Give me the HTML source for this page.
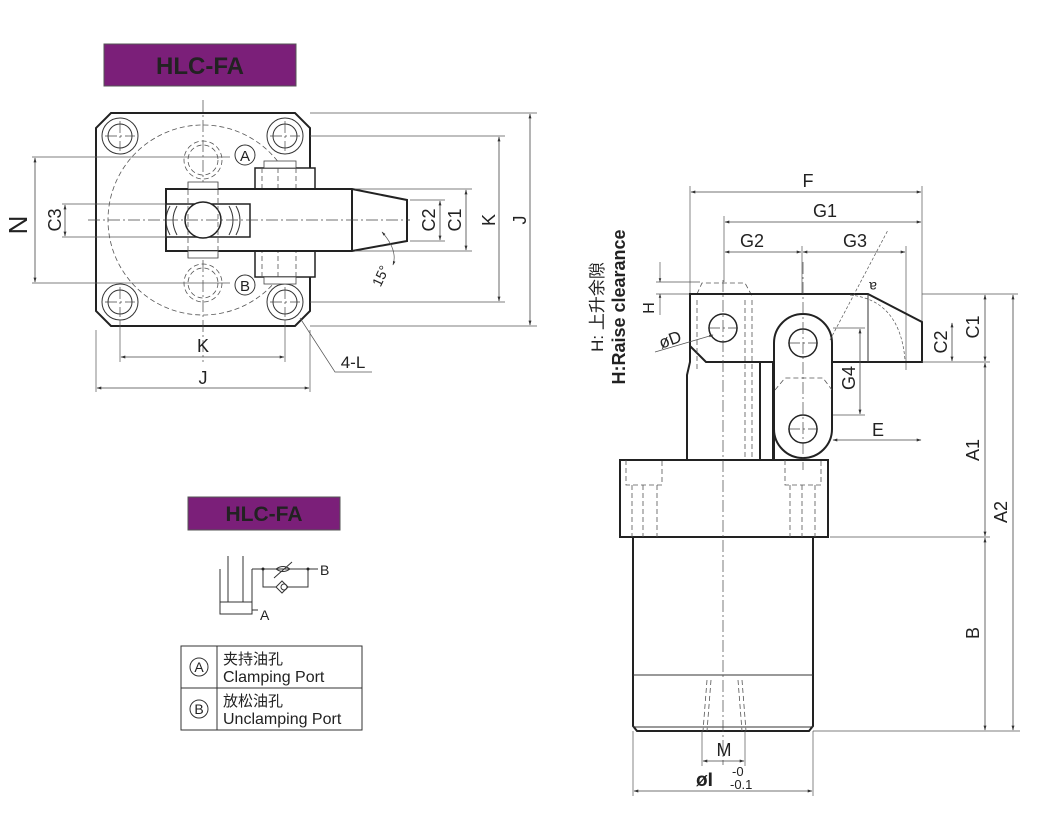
<!DOCTYPE html>
<html><head><meta charset="utf-8"><style>
html,body{margin:0;padding:0;background:#fff;}
svg{display:block;font-family:"Liberation Sans","Noto Sans CJK SC",sans-serif;}
.t{stroke:#222;stroke-width:2;fill:none}
.n{stroke:#333;stroke-width:1;fill:none}
.d{stroke:#555;stroke-width:0.8;fill:none;stroke-dasharray:5 3}
.c{stroke:#444;stroke-width:0.7;fill:none;stroke-dasharray:12 3 2 3}
.dim{stroke:#444;stroke-width:0.8;fill:none;marker-start:url(#a);marker-end:url(#a)}
.l{stroke:#555;stroke-width:0.7;fill:none}
text{fill:#222}
</style></head><body>
<svg width="1044" height="826" viewBox="0 0 1044 826" font-size="17">
<defs><marker id="a" viewBox="0 0 10 10" refX="9" refY="5" markerWidth="9" markerHeight="6" orient="auto-start-reverse"><path d="M0,2 L10,5 L0,8z" fill="#333"/></marker></defs>

<!-- Title 1 -->
<rect x="104" y="44" width="192" height="42" fill="#7b1f79" stroke="#555"/>
<text x="200" y="74" text-anchor="middle" font-size="24" font-weight="bold" fill="#111">HLC-FA</text>

<!-- top view plate -->
<path class="t" d="M111,113 L295,113 L310,128 L310,311 L295,326 L111,326 L96,311 L96,128 Z"/>
<g class="n">
<circle cx="120" cy="136" r="18"/><circle cx="120" cy="136" r="12"/>
<circle cx="285" cy="136" r="18"/><circle cx="285" cy="136" r="12"/>
<circle cx="120" cy="302" r="18"/><circle cx="120" cy="302" r="12"/>
<circle cx="285" cy="302" r="18"/><circle cx="285" cy="302" r="12"/>
</g>
<circle class="d" cx="203" cy="220" r="95"/>
<circle class="d" cx="203" cy="160" r="19"/><circle class="d" cx="203" cy="160" r="15"/>
<circle class="d" cx="203" cy="283" r="19"/><circle class="d" cx="203" cy="283" r="15"/>
<line class="c" x1="203" y1="100" x2="203" y2="362"/>
<line class="c" x1="88" y1="220" x2="410" y2="220"/>
<line class="c" x1="105" y1="136" x2="135" y2="136"/><line class="c" x1="120" y1="121" x2="120" y2="151"/>
<line class="c" x1="270" y1="136" x2="300" y2="136"/><line class="c" x1="285" y1="121" x2="285" y2="151"/>
<line class="c" x1="105" y1="302" x2="135" y2="302"/><line class="c" x1="120" y1="287" x2="120" y2="317"/>
<line class="c" x1="270" y1="302" x2="300" y2="302"/><line class="c" x1="285" y1="287" x2="285" y2="317"/>
<!-- clevis bar -->
<rect x="255" y="168" width="60" height="109" fill="#fff" stroke="#222" stroke-width="1.5"/>
<path class="d" d="M262,168 V277 M278,168 V277 M296,168 V277"/>
<rect x="264" y="161" width="32" height="7" fill="#fff" stroke="#444" stroke-width="0.8"/>
<rect x="264" y="277" width="32" height="7" fill="#fff" stroke="#444" stroke-width="0.8"/>
<!-- arm -->
<path d="M166,189 L352,189 L407,200 L407,241 L352,251 L166,251 Z" fill="#fff" stroke="#222" stroke-width="2"/>
<path class="t" d="M352,189 V251"/>
<rect x="166" y="204" width="84" height="33" fill="#fff" stroke="#222" stroke-width="1.5"/>
<circle cx="203" cy="220" r="18" fill="#fff" stroke="#222" stroke-width="1.5"/>
<path class="n" d="M170,206 Q162,220 170,235 M177,206 Q169,220 177,235 M236,206 Q244,220 236,235 M229,206 Q237,220 229,235"/>
<rect x="188" y="182" width="30" height="7" fill="#fff" stroke="#444" stroke-width="0.8"/>
<rect x="188" y="251" width="30" height="7" fill="#fff" stroke="#444" stroke-width="0.8"/>
<path class="d" d="M188,182 V258 M218,182 V258"/>
<line class="c" x1="166" y1="220" x2="410" y2="220"/>
<circle cx="245" cy="155" r="10" fill="#fff" stroke="#333"/><text x="245" y="161" text-anchor="middle" font-size="15">A</text>
<circle cx="245" cy="285" r="10" fill="#fff" stroke="#333"/><text x="245" y="291" text-anchor="middle" font-size="15">B</text>
<!-- dims left -->
<path class="l" d="M32,157 H230 M32,283 H230 M62,204 H166 M62,237 H166 M410,200 H445 M410,241 H445 M355,189 H472 M355,251 H472 M310,136 H505 M310,302 H505 M310,113 H537 M310,326 H537"/>
<line class="dim" x1="35" y1="158" x2="35" y2="282"/>
<line class="dim" x1="65" y1="205" x2="65" y2="236"/>
<line class="dim" x1="440" y1="201" x2="440" y2="240"/>
<line class="dim" x1="466" y1="190" x2="466" y2="250"/>
<line class="dim" x1="499" y1="137" x2="499" y2="301"/>
<line class="dim" x1="530" y1="114" x2="530" y2="325"/>
<text transform="translate(27,225) rotate(-90)" text-anchor="middle" font-size="26">N</text>
<text transform="translate(61,220) rotate(-90)" text-anchor="middle" font-size="18">C3</text>
<text transform="translate(435,220) rotate(-90)" text-anchor="middle" font-size="18">C2</text>
<text transform="translate(461,220) rotate(-90)" text-anchor="middle" font-size="18">C1</text>
<text transform="translate(495,220) rotate(-90)" text-anchor="middle" font-size="18">K</text>
<text transform="translate(526,220) rotate(-90)" text-anchor="middle" font-size="18">J</text>
<path class="l" d="M120,320 V362 M285,320 V362 M96,330 V392 M310,330 V392"/>
<line class="dim" x1="121" y1="357" x2="284" y2="357"/>
<line class="dim" x1="97" y1="388" x2="309" y2="388"/>
<text x="203" y="352" text-anchor="middle" font-size="18">K</text>
<text x="203" y="384" text-anchor="middle" font-size="18">J</text>
<path class="l" d="M300,318 L335,372 H372"/>
<text x="353" y="368" text-anchor="middle">4-L</text>
<path class="l" d="M382,232 Q398,250 393,265" marker-end="url(#a)" marker-start="url(#a)"/>
<text transform="translate(385,278) rotate(-65)" text-anchor="middle" font-size="14">15°</text>

<!-- Title 2 + schematic -->
<rect x="188" y="497" width="152" height="33" fill="#7b1f79" stroke="#555"/>
<text x="264" y="521" text-anchor="middle" font-size="21" font-weight="bold" fill="#111">HLC-FA</text>
<g class="n">
<path d="M220,569 V614 H252 V569 M228,556 V602 M243,556 V602 M220,602 H252 M252,569 H310 M252,610 H258 M263,569 V587 H276 M288,587 H308 V569 M308,569 H318"/>
<path d="M276,569 Q283,564 290,569 M276,569 Q283,574 290,569 M274,578 L292,562"/>
<path d="M282,581 L288,587 L282,593 L276,587 Z"/><circle cx="284" cy="587" r="3"/>
</g>
<circle cx="263" cy="569" r="1.5" fill="#222"/><circle cx="308" cy="569" r="1.5" fill="#222"/>
<text x="320" y="575" font-size="14">B</text>
<text x="260" y="620" font-size="14">A</text>
<rect x="181" y="646" width="181" height="84" fill="none" stroke="#333"/>
<path class="n" d="M181,688 H362 M217,646 V730"/>
<circle cx="199" cy="667" r="9" fill="none" stroke="#333"/><text x="199" y="672" text-anchor="middle" font-size="14">A</text>
<circle cx="199" cy="709" r="9" fill="none" stroke="#333"/><text x="199" y="714" text-anchor="middle" font-size="14">B</text>
<text x="223" y="664" font-size="15">夹持油孔</text>
<text x="223" y="682" font-size="16">Clamping Port</text>
<text x="223" y="706" font-size="15">放松油孔</text>
<text x="223" y="724" font-size="16">Unclamping Port</text>

<!-- side view -->
<text transform="translate(603,307) rotate(-90)" text-anchor="middle" font-size="17">H: 上升余隙</text>
<text transform="translate(625,307) rotate(-90)" text-anchor="middle" font-size="18" font-weight="bold">H:Raise clearance</text>
<path class="l" d="M690,186 V294 M922,186 V362 M724,216 V282 M802,246 V294 M906,246 V370"/>
<line class="dim" x1="691" y1="192" x2="921" y2="192"/>
<line class="dim" x1="725" y1="222" x2="921" y2="222"/>
<line class="dim" x1="725" y1="252" x2="801" y2="252"/>
<line class="dim" x1="803" y1="252" x2="905" y2="252"/>
<text x="808" y="187" text-anchor="middle" font-size="18">F</text>
<text x="825" y="217" text-anchor="middle" font-size="18">G1</text>
<text x="752" y="247" text-anchor="middle" font-size="18">G2</text>
<text x="855" y="247" text-anchor="middle" font-size="18">G3</text>
<!-- H -->
<path class="l" d="M656,282 H700 M656,294 H690"/>
<path class="l" d="M660,262 V282" marker-end="url(#a)"/><path class="l" d="M660,315 V294" marker-end="url(#a)"/>
<text transform="translate(654,308) rotate(-90)" text-anchor="middle" font-size="16">H</text>
<path class="d" d="M697,294 L702,283 L745,283 L752,296"/>
<!-- base & cylinder -->
<rect x="620" y="460" width="208" height="77" fill="#fff" stroke="#222" stroke-width="2"/>
<path class="t" d="M633,537 V726 L637,731 H809 L813,726 V537"/>
<path class="n" d="M633,675 H813 M633,727 H813"/>
<path class="d" d="M626,460 V485 H662 V460 M632,485 V537 M643,485 V537 M657,485 V537 M785,460 V485 H821 V460 M790,485 V537 M802,485 V537 M815,485 V537"/>
<path class="d" d="M707,680 L703,731 M711,680 L707,731 M738,680 L742,731 M742,680 L746,731"/>
<!-- column -->
<path class="t" d="M687,460 V375 L690,362 V294 H868 L922,322 V362 H832 M774,362 H706 L690,346" fill="#fff"/>
<path class="t" d="M760,460 V362 M773,362 V460"/>
<path d="M774,460 V343 A29,29 0 0 1 832,343 V429 A29,29 0 0 1 774,429 Z" fill="#fff" stroke="#222" stroke-width="2"/>
<path class="n" d="M868,294 V362"/>
<path class="d" d="M697,300 V370 M745,300 V460 M752,300 V460 M775,390 L785,378 H823 L832,390"/>
<circle cx="723" cy="328" r="14" fill="#fff" stroke="#222" stroke-width="1.5"/>
<circle cx="803" cy="343" r="14" fill="none" stroke="#222" stroke-width="1.5"/>
<circle cx="803" cy="429" r="14" fill="none" stroke="#222" stroke-width="1.5"/>
<line class="c" x1="723" y1="280" x2="723" y2="765"/>
<line class="c" x1="803" y1="262" x2="803" y2="470"/>
<path class="c" d="M708,328 H738 M788,343 H818 M788,429 H818"/>
<path class="l" d="M830,340 L888,230 M850,295 Q900,300 905,360" stroke-dasharray="3 2"/>
<text x="877" y="292" font-size="14" transform="rotate(180 877 287)">a</text>
<path class="l" d="M655,352 L713,335" marker-end="url(#a)"/>
<text transform="translate(672,345) rotate(-20)" text-anchor="middle" font-size="17">øD</text>
<!-- right dims -->
<path class="l" d="M922,294 H1018 M922,362 H990 M833,328 H865 M833,415 H865 M830,537 H990 M813,731 H1020"/>
<line class="dim" x1="952" y1="323" x2="952" y2="361"/>
<line class="dim" x1="985" y1="295" x2="985" y2="361"/>
<line class="dim" x1="985" y1="363" x2="985" y2="536"/>
<line class="dim" x1="985" y1="538" x2="985" y2="730"/>
<line class="dim" x1="1013" y1="295" x2="1013" y2="730"/>
<line class="dim" x1="860" y1="329" x2="860" y2="414"/>
<line class="dim" x1="833" y1="440" x2="921" y2="440"/>
<text transform="translate(947,342) rotate(-90)" text-anchor="middle" font-size="18">C2</text>
<text transform="translate(979,327) rotate(-90)" text-anchor="middle" font-size="18">C1</text>
<text transform="translate(979,450) rotate(-90)" text-anchor="middle" font-size="18">A1</text>
<text transform="translate(1007,512) rotate(-90)" text-anchor="middle" font-size="18">A2</text>
<text transform="translate(979,633) rotate(-90)" text-anchor="middle" font-size="18">B</text>
<text transform="translate(855,378) rotate(-90)" text-anchor="middle" font-size="18">G4</text>
<text x="878" y="436" text-anchor="middle" font-size="18">E</text>
<path class="l" d="M702,731 V766 M745,731 V766 M633,731 V796 M813,731 V796"/>
<line class="dim" x1="703" y1="761" x2="744" y2="761"/>
<line class="dim" x1="634" y1="791" x2="812" y2="791"/>
<text x="724" y="756" text-anchor="middle" font-size="18">M</text>
<text x="696" y="786" font-size="19" font-weight="bold">øI</text>
<text x="732" y="776" font-size="13">-0</text>
<text x="730" y="789" font-size="13">-0.1</text>
</svg>
</body></html>
